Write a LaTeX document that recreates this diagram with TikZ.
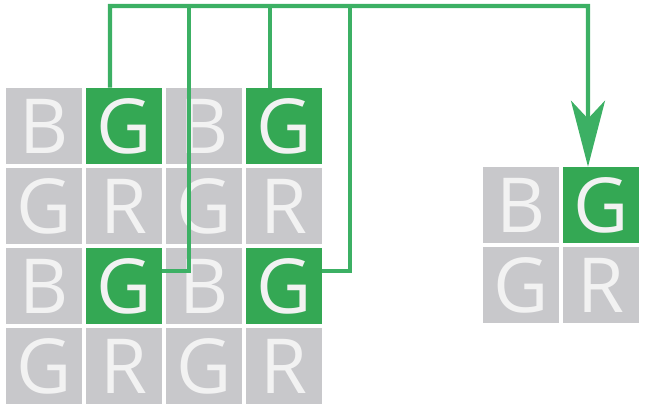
\documentclass[tikz,border=0pt]{standalone}
\usepackage{fontspec}
\setmainfont{Open Sans}
\usetikzlibrary{arrows.meta}

\definecolor{cellgray}{RGB}{200,200,203}
\definecolor{cellgreen}{RGB}{52,168,84}
\definecolor{wiregreen}{RGB}{60,176,100}
\definecolor{letter}{RGB}{242,242,242}

\tikzset{
  cell/.style={minimum size=1.9cm,inner sep=0pt,fill=cellgray,text=letter,
    font=\fontsize{54}{54}\selectfont},
  gcell/.style={cell,fill=cellgreen},
  wire/.style={draw=wiregreen,line width=1.1mm}
}

\begin{document}
\begin{tikzpicture}[x=0.025cm,y=-0.025cm]
    \useasboundingbox (0,0) rectangle (647,407);

    % 4x4 mosaic
    \node[cell]  (b11) at (44,126)  {B};
    \node[gcell] (g12) at (124,126) {G};
    \node[cell]  (b13) at (204,126) {B};
    \node[gcell] (g14) at (284,126) {G};

    \node[cell] (g21) at (44,206)  {G};
    \node[cell] (r22) at (124,206) {R};
    \node[cell] (g23) at (204,206) {G};
    \node[cell] (r24) at (284,206) {R};

    \node[cell]  (b31) at (44,286)  {B};
    \node[gcell] (g32) at (124,286) {G};
    \node[cell]  (b33) at (204,286) {B};
    \node[gcell] (g34) at (284,286) {G};

    \node[cell] (g41) at (44,366)  {G};
    \node[cell] (r42) at (124,366) {R};
    \node[cell] (g43) at (204,366) {G};
    \node[cell] (r44) at (284,366) {R};

    % 2x2 output
    \node[cell]  (ob) at (521,205) {B};
    \node[gcell] (og) at (601,205) {G};
    \node[cell]  (oh) at (521,285) {G};
    \node[cell]  (or) at (601,285) {R};

    % wires
    \coordinate (corner) at (588,6);
    \draw[wire,-{Stealth[length=1.65cm,width=0.85cm,inset=0.45cm]}]
        ([xshift=-0.35cm]g12.north) |- (corner) -- ([xshift=-0.325cm]og.north);
    \draw[wire] ([xshift=-0.35cm]g14.north) -- ++(0,-82);
    \draw[wire] ([yshift=0.375cm]g32.east) -| (189,6);
    \draw[wire] ([yshift=0.375cm]g34.east) -| (350,6);
\end{tikzpicture}
\end{document}
